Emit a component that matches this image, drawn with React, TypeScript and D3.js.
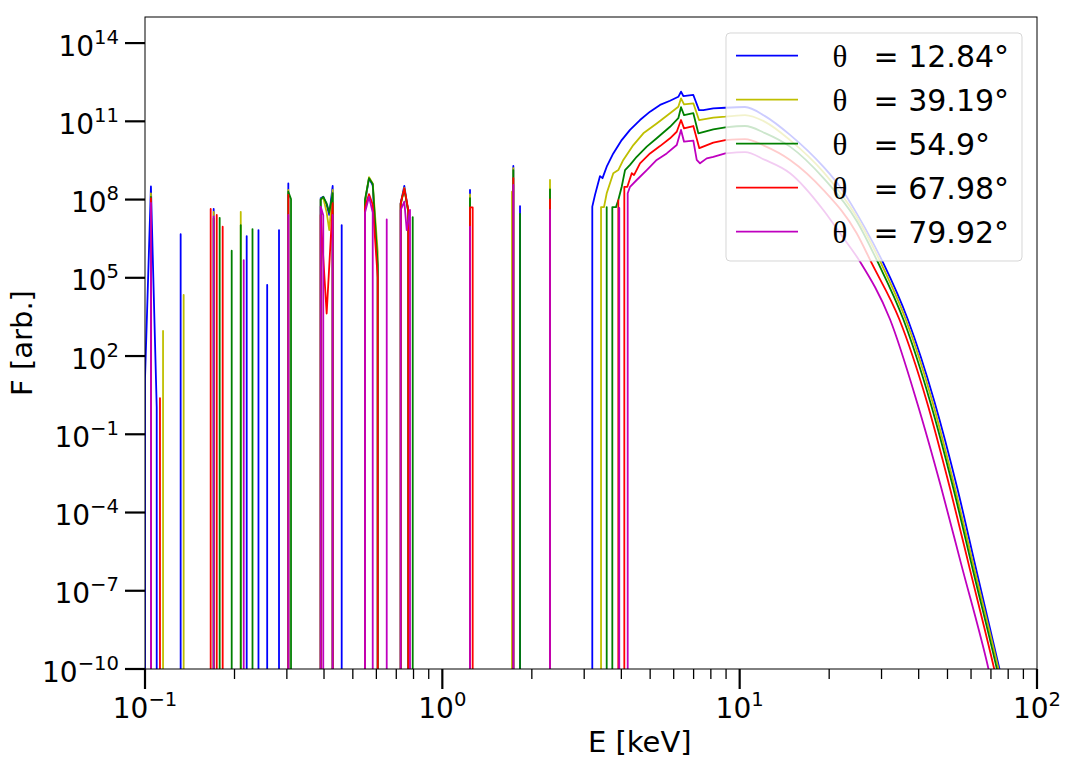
import React from 'react';
import * as d3 from 'd3';

// every point is [E in keV, log10 F]; outside a segment the flux is zero
type Pt = [number, number];

const thetaLabels = ['12.84', '39.19', '54.9', '67.98', '79.92'];
const lineColors = ['#0000ff', '#bfbf00', '#008000', '#ff0000', '#bf00bf'];

const blueSegments: Pt[][] = [
  [[0.1, 1.12], [0.1047, 8.5], [0.1095, 0.03]],
  [[0.1318, 6.67]],
  [[0.1702, 7.64]],
  [[0.2198, 6.6]],
  [[0.2408, 6.83]],
  [[0.2576, 4.73]],
  [[0.2823, 6.83]],
  [[0.3034, 8.62]],
  [[0.3898, 8.05], [0.3977, 8.11], [0.4083, 7.8], [0.4166, 7.41], [0.4277, 8.52]],
  [[0.4587, 7.02]],
  [[0.5495, 7.9], [0.5668, 8.82], [0.5833, 8.55], [0.6063, 5.27]],
  [[0.7244, 7.86], [0.7449, 8.52], [0.7684, 7.53]],
  [[1.239, 8.37]],
  [[1.733, 9.29]],
  [[1.825, 7.75]],
  [[3.194, 7.73], [3.262, 8.18], [3.391, 8.9], [3.457, 8.82], [3.571, 9.26], [3.758, 9.77],
   [4.011, 10.28], [4.278, 10.67], [4.622, 11.05], [4.995, 11.37], [5.397, 11.63], [5.832, 11.79],
   [6.219, 11.94], [6.35, 12.14], [6.464, 11.97], [6.985, 12.01], [7.3, 11.43], [7.547, 11.43],
   [8.154, 11.5], [8.946, 11.52], [10.42, 11.55], [12.17, 11.2], [14.77, 10.48], [19.11, 9.26],
   [21.75, 8.49], [24.75, 7.47], [28.15, 6.32], [30.42, 5.56], [36.75, 3.41], [45.15, 0.27],
   [53.95, -3.07], [62.7, -6.27], [74.69, -9.97], [80.1, -11.5]],
];

const yellowSegments: Pt[][] = [
  [[0.1047, 8.24]],
  [[0.115, 2.96]],
  [[0.1349, 4.34]],
  [[0.1702, 7.53]],
  [[0.2099, 7.53]],
  [[0.3034, 8.37]],
  [[0.3898, 8.0], [0.3977, 8.08], [0.4083, 7.5], [0.4166, 6.83], [0.4277, 8.37]],
  [[0.5495, 7.95], [0.5668, 8.86], [0.5833, 8.62], [0.6063, 6.0]],
  [[0.7244, 7.8], [0.7449, 8.45], [0.7684, 7.5]],
  [[1.239, 8.2]],
  [[1.715, 8.3]],
  [[1.733, 9.2]],
  [[2.302, 8.75]],
  [[3.418, 7.71], [3.497, 7.71], [3.571, 8.24], [3.758, 9.01], [3.907, 9.13], [4.061, 9.52],
   [4.389, 10.09], [4.743, 10.54], [5.26, 10.92], [5.832, 11.31], [6.219, 11.56], [6.35, 11.88],
   [6.5, 11.65], [6.985, 11.69], [7.3, 11.05], [8.154, 11.14], [8.946, 11.18], [10.42, 11.24],
   [12.17, 10.98], [14.77, 10.28], [19.11, 9.06], [24.75, 7.33], [29.88, 5.56], [36.18, 3.41],
   [44.45, 0.27], [53.0, -3.07], [61.88, -6.27], [74.12, -9.97], [79.5, -11.5]],
];

const greenSegments: Pt[][] = [
  [[0.1047, 8.1]],
  [[0.1702, 7.28]],
  [[0.1783, 7.3]],
  [[0.1957, 6.04]],
  [[0.2099, 7.02]],
  [[0.2299, 6.87]],
  [[0.3034, 8.3], [0.3098, 8.02]],
  [[0.3898, 8.0], [0.3977, 8.1], [0.4083, 7.85], [0.4166, 7.5], [0.4277, 8.25]],
  [[0.5495, 8.0], [0.5668, 8.82], [0.5833, 8.6], [0.6063, 5.5]],
  [[0.7244, 7.85], [0.7449, 8.4], [0.7684, 7.55]],
  [[0.7951, 7.33]],
  [[1.239, 8.05]],
  [[1.733, 9.13]],
  [[1.825, 7.45]],
  [[2.302, 8.39]],
  [[3.571, 7.71]],
  [[3.73, 7.71], [3.838, 7.71], [3.907, 7.98], [4.011, 8.49], [4.116, 9.13], [4.278, 9.33],
   [4.505, 9.64], [4.87, 10.03], [5.26, 10.35], [5.832, 10.79], [6.219, 11.12], [6.35, 11.54],
   [6.5, 11.24], [6.985, 11.31], [7.261, 10.54], [8.154, 10.69], [8.946, 10.77], [10.42, 10.82],
   [12.17, 10.55], [14.77, 10.03], [19.11, 8.83], [24.75, 7.18], [29.26, 5.56], [35.51, 3.41],
   [43.67, 0.27], [52.3, -3.07], [61.07, -6.27], [73.21, -9.97], [78.5, -11.5]],
];

const redSegments: Pt[][] = [
  [[0.1047, 8.05]],
  [[0.1123, 0.39]],
  [[0.1663, 7.64]],
  [[0.1743, 7.41]],
  [[0.1825, 6.96]],
  [[0.3034, 8.18]],
  [[0.3898, 7.41], [0.4083, 3.63], [0.4277, 7.86]],
  [[0.5495, 7.7], [0.5668, 8.21], [0.5833, 7.8], [0.6063, 5.0]],
  [[0.7244, 7.86], [0.7449, 8.43], [0.7684, 7.6]],
  [[1.239, 7.7], [1.265, 7.7]],
  [[1.733, 8.82]],
  [[2.302, 8.01]],
  [[3.907, 7.98]],
  [[4.093, 8.49], [4.19, 8.49], [4.335, 9.01], [4.412, 8.94], [4.622, 9.39], [4.995, 9.77],
   [5.397, 10.05], [5.832, 10.35], [6.143, 10.6], [6.35, 11.05], [6.5, 10.73], [6.985, 10.82],
   [7.317, 9.97], [8.154, 10.18], [8.946, 10.28], [10.42, 10.32], [12.17, 10.05], [14.77, 9.52],
   [19.11, 8.37], [24.75, 6.71], [27.8, 5.56], [34.43, 3.41], [42.57, 0.27], [50.98, -3.07],
   [59.53, -6.2], [71.7, -9.97], [76.9, -11.5]],
];

const magentaSegments: Pt[][] = [
  [[0.1047, 7.87]],
  [[0.1702, 7.35]],
  [[0.2148, 5.68]],
  [[0.3034, 7.41]],
  [[0.3898, 7.73], [0.3977, 7.4]],
  [[0.4277, 7.41]],
  [[0.5495, 7.5], [0.5668, 8.11], [0.5833, 7.5]],
  [[0.6501, 7.24]],
  [[0.7244, 7.6], [0.7449, 7.92], [0.759, 6.83], [0.7786, 7.6]],
  [[1.239, 6.96]],
  [[1.733, 8.56]],
  [[2.302, 7.6]],
  [[3.936, 7.68]],
  [[4.202, 8.24], [4.278, 8.49], [4.505, 8.75], [4.87, 9.13], [5.26, 9.52], [5.684, 9.77],
   [6.143, 10.09], [6.35, 10.67], [6.5, 10.22], [6.985, 10.26], [7.171, 9.52], [7.357, 9.39],
   [7.748, 9.58], [8.154, 9.64], [8.946, 9.77], [10.42, 9.82], [12.17, 9.52], [14.77, 9.01],
   [19.11, 7.6], [21.75, 6.71], [25.39, 5.62], [32.03, 3.41], [39.39, 0.27], [47.56, -3.02],
   [55.51, -5.95], [68.6, -9.97], [73.5, -11.5]],
];

const seriesSegments = [blueSegments, yellowSegments, greenSegments, redSegments, magentaSegments];

const xTickExps = [-1, 0, 1, 2];
const yTickExps = [-10, -7, -4, -1, 2, 5, 8, 11, 14];

const W = 1068;
const H = 777;
const margin = { top: 17, right: 31, bottom: 108, left: 145 };
const ZERO_LOG = -14; // zero flux, drawn below the axis floor
const SMOOTH_FROM = 8.9; // keV, the high-energy tail is a smooth continuum
const FONT = '"DejaVu Sans", sans-serif';

function expText(e: number) {
  return e < 0 ? `\u2212${-e}` : `${e}`;
}

export default function App() {
  const x = d3.scaleLog().domain([0.1, 100]).range([margin.left, W - margin.right]);
  const y = d3.scaleLog().domain([1e-10, 1e15]).range([H - margin.bottom, margin.top]);
  const [x0, x1] = x.range();
  const [y0, y1] = y.range();

  const px = (d: Pt) => x(d[0]);
  const py = (d: Pt) => y(Math.pow(10, d[1]));
  const yZero = y(Math.pow(10, ZERO_LOG));

  const smooth = d3.line<Pt>().x(px).y(py).curve(d3.curveMonotoneX);

  // straight between the bins, smooth on the tail, vertical drops where the flux is zero
  const segPath = (s: Pt[]) => {
    const rough = s.filter(d => d[0] < SMOOTH_FROM);
    const tail = s.filter(d => d[0] >= SMOOTH_FROM);
    let d = `M${px(s[0])},${yZero}`;
    rough.forEach(p => { d += `L${px(p)},${py(p)}`; });
    if (tail.length > 1) d += (smooth(tail) || '').replace(/^M/, 'L');
    else tail.forEach(p => { d += `L${px(p)},${py(p)}`; });
    d += `L${px(s[s.length - 1])},${yZero}`;
    return d;
  };

  const minorX: number[] = [];
  for (let d = -1; d < 2; d++) for (let k = 2; k < 10; k++) minorX.push(k * Math.pow(10, d));

  // legend
  const lgX = 726, lgY = 33, lgW = 296, lgH = 228;

  return (
    <svg width={W} height={H} viewBox={`0 0 ${W} ${H}`}
      style={{ position: 'absolute', left: 0, top: 0, background: '#fff' }}>
      <defs>
        <clipPath id="plot-area">
          <rect x={x0} y={y1} width={x1 - x0} height={y0 - y1} />
        </clipPath>
      </defs>
      <rect width={W} height={H} fill="#fff" />

      {/* Spectra, one colour per angle */}
      <g clipPath="url(#plot-area)" fill="none" strokeWidth={1.8} strokeLinejoin="round">
        {seriesSegments.map((segs, i) => (
          <g key={i} stroke={lineColors[i]}>
            {segs.map((s, j) => <path key={j} d={segPath(s)} />)}
          </g>
        ))}
      </g>

      {/* Frame */}
      <rect x={x0} y={y1} width={x1 - x0} height={y0 - y1} fill="none" stroke="#000" strokeWidth={1} />

      {/* Ticks */}
      <g stroke="#000">
        {minorX.map(v => (
          <line key={v} x1={x(v)} x2={x(v)} y1={y0} y2={y0 + 10} strokeWidth={1.3} />
        ))}
        {xTickExps.map(e => (
          <line key={e} x1={x(Math.pow(10, e))} x2={x(Math.pow(10, e))} y1={y0} y2={y0 + 20} strokeWidth={2.2} />
        ))}
        {yTickExps.map(e => (
          <line key={e} x1={x0 - 20} x2={x0} y1={y(Math.pow(10, e))} y2={y(Math.pow(10, e))} strokeWidth={2.2} />
        ))}
      </g>
      <g fontFamily={FONT} fill="#000">
        {xTickExps.map(e => (
          <text key={e} x={x(Math.pow(10, e))} y={718} textAnchor="middle" fontSize={28}>
            10<tspan dy={-12} fontSize={19.6}>{expText(e)}</tspan>
          </text>
        ))}
        {yTickExps.map(e => (
          <text key={e} x={119} y={y(Math.pow(10, e)) + 12.5} textAnchor="end" fontSize={28}>
            10<tspan dy={-12} fontSize={19.6}>{expText(e)}</tspan>
          </text>
        ))}
        <text x={588} y={752} fontSize={29}>E [keV]</text>
        <text transform={`translate(32,${(y0 + y1) / 2}) rotate(-90)`} textAnchor="middle" fontSize={29}>
          F [arb.]
        </text>
      </g>

      {/* Legend */}
      <g>
        <rect x={lgX} y={lgY} width={lgW} height={lgH} rx={4}
          fill="#fff" fillOpacity={0.8} stroke="#cccccc" strokeOpacity={0.8} strokeWidth={1} />
        {thetaLabels.map((t, i) => {
          const ly = 55.7 + i * 44;
          return (
            <g key={t}>
              <line x1={736} x2={798} y1={ly} y2={ly} stroke={lineColors[i]} strokeWidth={1.8} />
              <text x={840} y={ly + 11} textAnchor="middle" fontSize={31}
                fontFamily='"Liberation Serif", serif'>θ</text>
              <text x={873.5} y={ly + 11} fontSize={30} fontFamily={FONT}>{`= ${t}°`}</text>
            </g>
          );
        })}
      </g>
    </svg>
  );
}
